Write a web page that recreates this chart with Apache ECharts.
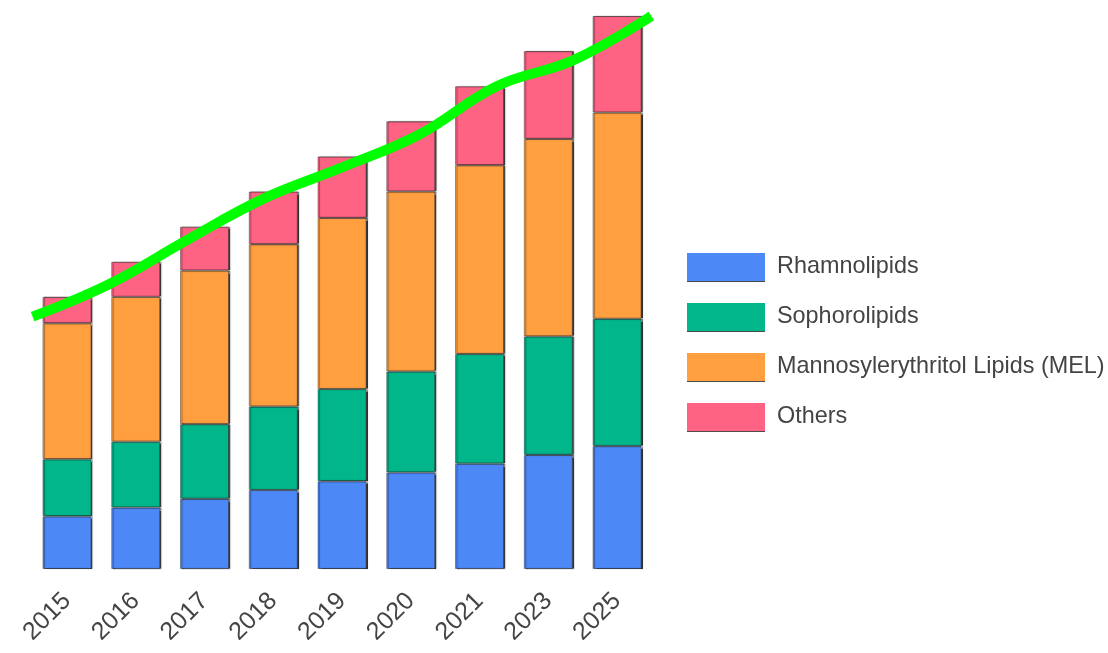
<!DOCTYPE html>
<html>
<head>
<meta charset="utf-8">
<script src="https://cdn.jsdelivr.net/npm/echarts@6/dist/echarts.min.js"></script>
<style>
  html, body { margin: 0; padding: 0; background: #ffffff; }
  #chart { width: 1108px; height: 653px; }
</style>
</head>
<body>
<div id="chart"></div>
<script>
// Biosurfactant market by type, stacked per year, with an overall trend line
const years = ['2015', '2016', '2017', '2018', '2019', '2020', '2021', '2023', '2025'];
const rhamnolipids = [1.2, 1.4, 1.6, 1.8, 2.0, 2.2, 2.4, 2.6, 2.8];
const sophorolipids = [1.3, 1.5, 1.7, 1.9, 2.1, 2.3, 2.5, 2.7, 2.9];
const mel = [3.1, 3.3, 3.5, 3.7, 3.9, 4.1, 4.3, 4.5, 4.7];
const others = [0.6, 0.8, 1.0, 1.2, 1.4, 1.6, 1.8, 2.0, 2.2];
const trend = [5.75, 6.5, 7.5, 8.45, 9.15, 9.9, 11.0, 11.6, 12.6];

const seriesNames = ['Rhamnolipids', 'Sophorolipids', 'Mannosylerythritol Lipids (MEL)', 'Others'];
const seriesColors = ['#4d88f7', '#00b68a', '#ff9f40', '#ff6384'];
const seriesData = [rhamnolipids, sophorolipids, mel, others];

const font = '"Liberation Sans", Arial, sans-serif';

const barSeries = seriesNames.map((name, i) => ({
  name: name,
  type: 'bar',
  stack: 'total',
  xAxisIndex: 0,
  yAxisIndex: 0,
  barWidth: 49,
  data: seriesData[i],
  itemStyle: {
    color: seriesColors[i],
    borderColor: 'rgba(50,50,50,0.45)',
    borderWidth: 1,
    shadowColor: 'rgba(0,0,0,0.75)',
    shadowOffsetX: 1.5,
    shadowBlur: 1
  },
  emphasis: { disabled: true }
}));

const chart = echarts.init(document.getElementById('chart'), null, { renderer: 'canvas' });
chart.setOption({
  animation: false,
  backgroundColor: '#ffffff',
  grid: { left: 32.6, right: 456.6, top: 16, bottom: 84, containLabel: false },
  legend: {
    orient: 'vertical',
    left: 687,
    top: 253,
    padding: 0,
    icon: 'rect',
    itemWidth: 78,
    itemHeight: 28,
    itemGap: 22,
    data: seriesNames,
    itemStyle: {
      borderWidth: 0,
      shadowColor: 'rgba(0,0,0,0.7)',
      shadowOffsetY: 1,
      shadowBlur: 0
    },
    textStyle: {
      fontFamily: font,
      fontSize: 23.4,
      color: '#444444',
      padding: [0, 0, 0, 7]
    }
  },
  xAxis: [
    {
      type: 'category',
      data: years,
      boundaryGap: true,
      axisLine: { show: false },
      axisTick: { show: false },
      axisLabel: {
        rotate: 45,
        margin: 28,
        fontFamily: font,
        fontSize: 25,
        color: '#444444'
      }
    },
    {
      type: 'category',
      data: years,
      boundaryGap: false,
      show: false
    }
  ],
  yAxis: {
    type: 'value',
    min: 0,
    max: 12.6,
    show: false
  },
  series: [
    ...barSeries,
    {
      name: 'Trend',
      type: 'line',
      xAxisIndex: 1,
      yAxisIndex: 0,
      data: trend,
      smooth: 0.4,
      symbol: 'none',
      clip: false,
      z: 10,
      lineStyle: { color: '#00ff00', width: 10, cap: 'butt' },
      emphasis: { disabled: true }
    }
  ]
});
</script>
</body>
</html>
